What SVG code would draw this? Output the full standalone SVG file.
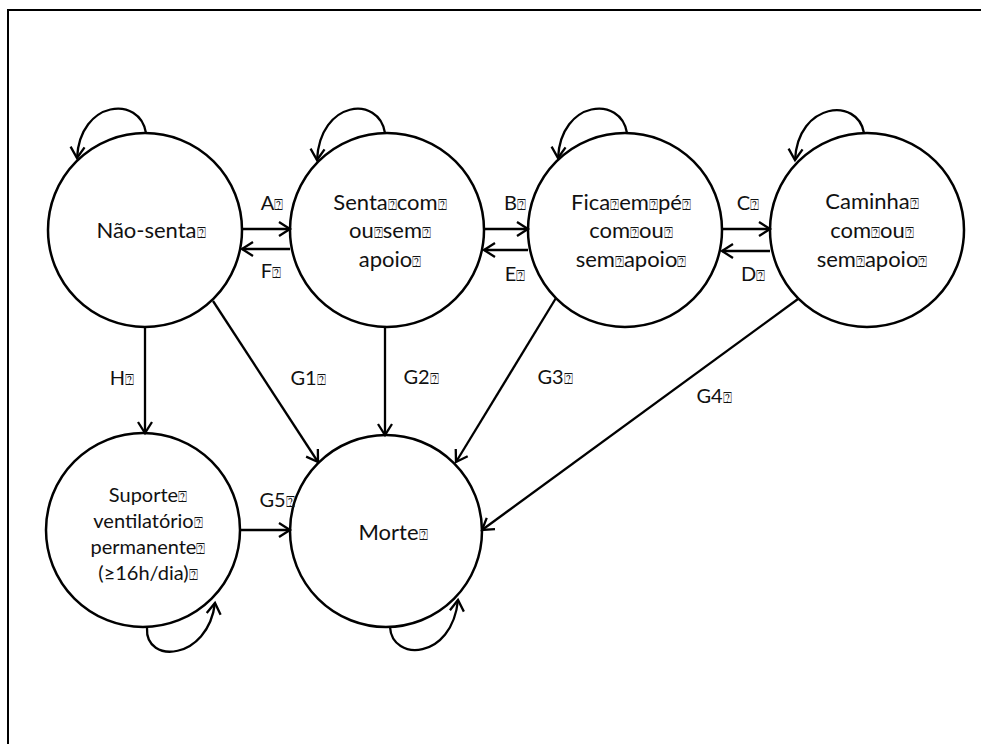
<svg xmlns="http://www.w3.org/2000/svg" width="981" height="744" viewBox="0 0 981 744">
<style>
.n{fill:none;stroke:#000;stroke-width:2.5}
.e{fill:none;stroke:#000;stroke-width:2.3}
text{font-family:Lato,"Open Sans","DejaVu Sans",sans-serif;fill:#111;text-anchor:middle}
.t{font-size:22px}
.s{font-size:20px}
.l{font-size:20px}
.b{font-family:"DejaVu Sans",sans-serif;font-size:15px}
</style>
<defs>
<marker id="ah" markerUnits="userSpaceOnUse" markerWidth="18" markerHeight="18" refX="14" refY="9" orient="auto">
<path d="M3,2 L14,9 L3,16" fill="none" stroke="#000" stroke-width="2.3"/>
</marker>
</defs>
<rect width="981" height="744" fill="#fff"/>
<path d="M8,744 V10 H981" fill="none" stroke="#000" stroke-width="2"/>

<g id="nao-senta"><circle class="n" cx="145" cy="230" r="97"/>
<text class="t" x="151" y="238">Não-senta<tspan class="b">⍰</tspan></text></g>

<g id="senta"><circle class="n" cx="387" cy="230" r="97"/>
<text class="t" x="390" y="210">Senta<tspan class="b">⍰</tspan>com<tspan class="b">⍰</tspan></text>
<text class="t" x="390" y="238">ou<tspan class="b">⍰</tspan>sem<tspan class="b">⍰</tspan></text>
<text class="t" x="390" y="267">apoio<tspan class="b">⍰</tspan></text></g>

<g id="fica"><circle class="n" cx="625" cy="230" r="97"/>
<text class="t" x="631" y="210">Fica<tspan class="b">⍰</tspan>em<tspan class="b">⍰</tspan>pé<tspan class="b">⍰</tspan></text>
<text class="t" x="631" y="238">com<tspan class="b">⍰</tspan>ou<tspan class="b">⍰</tspan></text>
<text class="t" x="631" y="267">sem<tspan class="b">⍰</tspan>apoio<tspan class="b">⍰</tspan></text></g>

<g id="caminha"><circle class="n" cx="867" cy="230" r="97"/>
<text class="t" x="872" y="209">Caminha<tspan class="b">⍰</tspan></text>
<text class="t" x="872" y="238">com<tspan class="b">⍰</tspan>ou<tspan class="b">⍰</tspan></text>
<text class="t" x="872" y="267">sem<tspan class="b">⍰</tspan>apoio<tspan class="b">⍰</tspan></text></g>

<g id="suporte"><circle class="n" cx="143" cy="530" r="97"/>
<text class="s" x="148" y="502">Suporte<tspan class="b">⍰</tspan></text>
<text class="s" x="148" y="528">ventilatório<tspan class="b">⍰</tspan></text>
<text class="s" x="148" y="554">permanente<tspan class="b">⍰</tspan></text>
<text class="s" x="148" y="580">(≥16h/dia)<tspan class="b">⍰</tspan></text></g>

<g id="morte"><circle class="n" cx="386" cy="531" r="96"/>
<text class="t" x="393" y="540">Morte<tspan class="b">⍰</tspan></text></g>

<g id="connectors">
<path class="e" marker-end="url(#ah)" d="M146,133 C140,95 80,100 77,158"/>
<path class="e" marker-end="url(#ah)" d="M385,133 C379,95 320,100 317,160"/>
<path class="e" marker-end="url(#ah)" d="M627,133 C621,95 561,100 558,158"/>
<path class="e" marker-end="url(#ah)" d="M864,133 C858,97 798,102 795,160"/>
<path class="e" marker-end="url(#ah)" d="M147,628 C145,665 208,660 215,603"/>
<path class="e" marker-end="url(#ah)" d="M390,627 C392,662 452,660 458,600"/>

<line class="e" marker-end="url(#ah)" x1="242" y1="229" x2="290" y2="229"/>
<line class="e" marker-end="url(#ah)" x1="290" y1="249" x2="242" y2="249"/>
<line class="e" marker-end="url(#ah)" x1="484" y1="229" x2="528" y2="229"/>
<line class="e" marker-end="url(#ah)" x1="528" y1="250" x2="484" y2="250"/>
<line class="e" marker-end="url(#ah)" x1="722" y1="229" x2="770" y2="229"/>
<line class="e" marker-end="url(#ah)" x1="770" y1="251" x2="722" y2="251"/>
<line class="e" marker-end="url(#ah)" x1="145" y1="327" x2="145" y2="433"/>
<line class="e" marker-end="url(#ah)" x1="213" y1="301" x2="318" y2="462"/>
<line class="e" marker-end="url(#ah)" x1="385" y1="327" x2="385" y2="435"/>
<line class="e" marker-end="url(#ah)" x1="556" y1="298" x2="456" y2="462"/>
<line class="e" marker-end="url(#ah)" x1="798" y1="299" x2="482" y2="530"/>
<line class="e" marker-end="url(#ah)" x1="239" y1="530" x2="290" y2="530"/>

<text class="l" x="272" y="210">A<tspan class="b">⍰</tspan></text>
<text class="l" x="271" y="278">F<tspan class="b">⍰</tspan></text>
<text class="l" x="515" y="210">B<tspan class="b">⍰</tspan></text>
<text class="l" x="515" y="281">E<tspan class="b">⍰</tspan></text>
<text class="l" x="748" y="210">C<tspan class="b">⍰</tspan></text>
<text class="l" x="753" y="281">D<tspan class="b">⍰</tspan></text>
<text class="l" x="122" y="385">H<tspan class="b">⍰</tspan></text>
<text class="l" x="308" y="385">G1<tspan class="b">⍰</tspan></text>
<text class="l" x="421" y="384">G2<tspan class="b">⍰</tspan></text>
<text class="l" x="555" y="384">G3<tspan class="b">⍰</tspan></text>
<text class="l" x="714" y="403">G4<tspan class="b">⍰</tspan></text>
<text class="l" x="277" y="507">G5<tspan class="b">⍰</tspan></text>
</g>
</svg>
